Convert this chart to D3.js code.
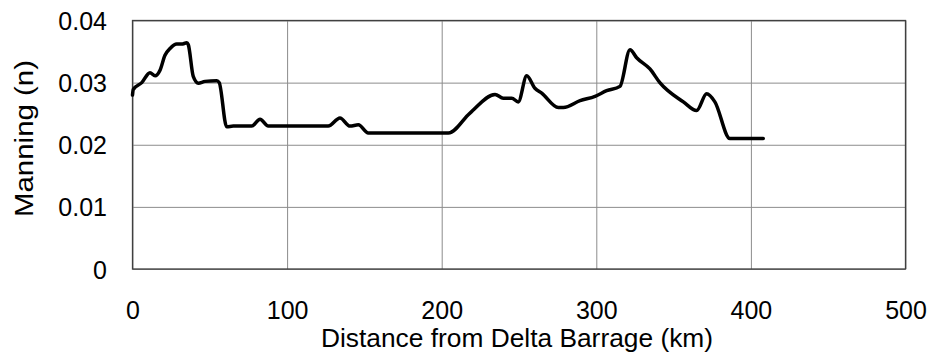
<!DOCTYPE html>
<html>
<head>
<meta charset="utf-8">
<script src="https://cdn.jsdelivr.net/npm/d3@7"></script>
<style>
  html, body { margin: 0; padding: 0; background: #fff; }
  svg { display: block; }
  text { font-family: Arial, "Liberation Sans", sans-serif; fill: #000; }
</style>
</head>
<body>
<svg id="chart" width="929" height="354"></svg>
<script>
// ---- data ----
const distanceKm = [0, 0.5, 6.0, 11.3, 14.6, 17.8, 21.0, 24.3, 28.6, 31.8, 35.1, 36.1, 39.3, 42.6, 46.9, 54.5, 56.1,
  60.9, 65.2, 77.1, 82.5, 87.8, 126.6, 134.2, 140.7, 146.1, 152.5, 204.3, 218.3, 234.5, 239.8, 245.3, 249.5,
  255.0, 260.3, 264.7, 275.4, 278.7, 289.5, 299.2, 306.7, 315.3, 321.8, 326.1, 334.7, 341.1, 356.3, 364.9,
  371.4, 376.7, 386.4, 390.8, 408.0];
const manningN = [0.0280, 0.0289, 0.0300, 0.0316, 0.0311, 0.0320, 0.0344, 0.0355, 0.0362, 0.0362, 0.0364, 0.0361,
  0.0310, 0.0299, 0.0302, 0.0303, 0.0300, 0.0229, 0.0230, 0.0230, 0.0241, 0.0230, 0.0230, 0.0243, 0.0230,
  0.0232, 0.0219, 0.0219, 0.0251, 0.0281, 0.0275, 0.0275, 0.0269, 0.0311, 0.0291, 0.0283, 0.0260, 0.0260,
  0.0271, 0.0278, 0.0287, 0.0294, 0.0353, 0.0340, 0.0322, 0.0300, 0.0269, 0.0255, 0.0282, 0.0269, 0.0210,
  0.0210, 0.0210];
const xTickValues = [0, 100, 200, 300, 400, 500];
const xTickLabels = ["0", "100", "200", "300", "400", "500"];
const yTickValues = [0, 0.01, 0.02, 0.03, 0.04];
const yTickLabels = ["0", "0.01", "0.02", "0.03", "0.04"];
const xTitle = "Distance from Delta Barrage (km)";
const yTitle = "Manning (n)";

// ---- layout ----
const plot = { left: 132.5, right: 905.5, top: 20.5, bottom: 269 };
const svg = d3.select("#chart");

const x = d3.scaleLinear().domain([0, 500]).range([plot.left, plot.right]);
const y = d3.scaleLinear().domain([0, 0.04]).range([plot.bottom, plot.top]);

// gridlines
const gx = svg.append("g")
  .attr("transform", `translate(0,${plot.bottom})`)
  .call(d3.axisBottom(x).tickValues(xTickValues).tickSize(-(plot.bottom - plot.top)).tickFormat(""));
gx.select(".domain").remove();
gx.selectAll("line").attr("stroke", "#8c8c8c").attr("stroke-width", 1);

const gy = svg.append("g")
  .attr("transform", `translate(${plot.left},0)`)
  .call(d3.axisLeft(y).tickValues(yTickValues).tickSize(-(plot.right - plot.left)).tickFormat(""));
gy.select(".domain").remove();
gy.selectAll("line").attr("stroke", "#8c8c8c").attr("stroke-width", 1);

// plot border
svg.append("rect")
  .attr("x", plot.left).attr("y", plot.top)
  .attr("width", plot.right - plot.left).attr("height", plot.bottom - plot.top)
  .attr("fill", "none").attr("stroke", "#404040").attr("stroke-width", 1.3);

// tick labels via axes
const ax = svg.append("g")
  .attr("transform", `translate(0,${plot.bottom})`)
  .call(d3.axisBottom(x).tickValues(xTickValues).tickSize(0).tickPadding(0)
    .tickFormat((d, i) => xTickLabels[i]));
ax.select(".domain").remove();
ax.selectAll("text")
  .attr("y", 50).attr("dy", 0)
  .attr("font-size", 25).attr("fill", "#000")
  .style("font-family", "Arial, 'Liberation Sans', sans-serif");

const ay = svg.append("g")
  .attr("transform", `translate(${plot.left},0)`)
  .call(d3.axisLeft(y).tickValues(yTickValues).tickSize(0).tickPadding(0)
    .tickFormat((d, i) => yTickLabels[i]));
ay.select(".domain").remove();
ay.selectAll("text")
  .attr("x", -25.5).attr("dy", "0.36em")
  .attr("font-size", 25).attr("fill", "#000")
  .style("font-family", "Arial, 'Liberation Sans', sans-serif");

// axis titles
svg.append("text")
  .attr("x", (plot.left + plot.right) / 2 - 2).attr("y", 347)
  .attr("text-anchor", "middle")
  .attr("font-size", 25)
  .attr("textLength", 392).attr("lengthAdjust", "spacingAndGlyphs")
  .text(xTitle);

svg.append("text")
  .attr("transform", `translate(33,138.5) rotate(-90)`)
  .attr("text-anchor", "middle")
  .attr("font-size", 25)
  .attr("textLength", 157).attr("lengthAdjust", "spacingAndGlyphs")
  .text(yTitle);

// data line
const pts = distanceKm.map((d, i) => [d, manningN[i]]);
svg.append("path")
  .datum(pts)
  .attr("fill", "none")
  .attr("stroke", "#000")
  .attr("stroke-width", 3.5)
  .attr("stroke-linejoin", "round")
  .attr("stroke-linecap", "round")
  .attr("d", d3.line().x(d => x(d[0])).y(d => y(d[1])).curve(d3.curveMonotoneX));
</script>
</body>
</html>
